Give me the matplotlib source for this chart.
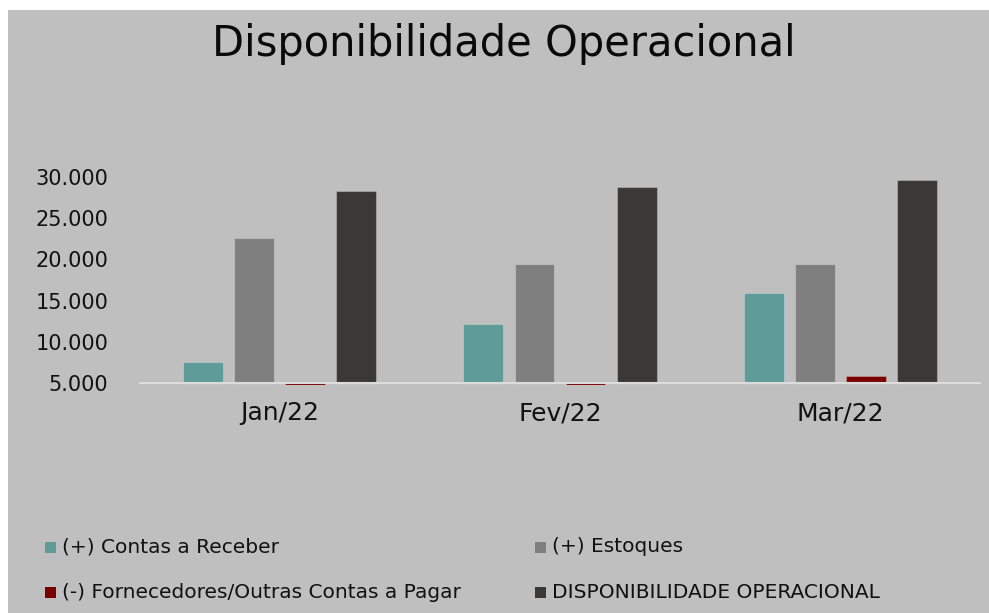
import matplotlib
matplotlib.use("Agg")
import matplotlib.pyplot as plt
from matplotlib.patches import Rectangle
import numpy as np

plt.rcParams['font.family'] = ['DejaVu Sans']

categories = ["Jan/22", "Fev/22", "Mar/22"]
series_names = ["(+) Contas a Receber", "(+) Estoques",
                "(-) Fornecedores/Outras Contas a Pagar", "DISPONIBILIDADE OPERACIONAL"]
contas_receber = [7500, 12200, 15900]
estoques = [22600, 19500, 19450]
fornecedores = [4800, 4800, 5800]
disponibilidade = [28300, 28800, 29600]
series_values = [contas_receber, estoques, fornecedores, disponibilidade]
colors = ["#5f9b98", "#7f7f7f", "#7a0000", "#3a3937"]
yticks = [5000, 10000, 15000, 20000, 25000, 30000]
ytick_labels = ["5.000", "10.000", "15.000", "20.000", "25.000", "30.000"]
title = "Disponibilidade Operacional"

W, H = 989, 613
fig = plt.figure(figsize=(W / 100, H / 100), dpi=100)
fig.patch.set_facecolor("white")
bg = "#bfbfbf"
fig.patches.append(Rectangle((8 / W, 0), 1 - 8 / W, 1 - 10 / H, transform=fig.transFigure,
                             facecolor=bg, edgecolor="none", zorder=-10))

ax = fig.add_axes([139 / W, 0.3725, (981 - 139) / W, 0.7113 - 0.3725])
ax.set_facecolor("none")
x = np.arange(len(categories))
bw = 0.142
step = 0.182
base = 5000
for i, (vals, c) in enumerate(zip(series_values, colors)):
    off = (i - 1.5) * step
    heights = [v - base for v in vals]
    ax.bar(x + off, heights, bw, bottom=base, color=c, edgecolor=(1, 1, 1, 0.25),
           linewidth=0.8, zorder=2)

ax.set_ylim(4800, 30000)
ax.set_xlim(-0.5, 2.5)
ax.axhline(base, color="#dcdcdc", linewidth=1.5, zorder=3)
for s in ax.spines.values():
    s.set_visible(False)
ax.set_yticks(yticks)
ax.set_yticklabels(ytick_labels, fontsize=15, color="#111111")
ax.tick_params(axis="y", length=0, pad=22)
ax.set_xticks(x)
ax.set_xticklabels(categories, fontsize=18, color="#111111")
ax.tick_params(axis="x", length=0, pad=12)

fig.text(504 / W, 1 - 44 / H, title, ha="center", va="center", fontsize=30, color="#0a0a0a")

# legend
legend_pos = [(45, 547), (535, 547), (45, 592), (535, 592)]
for (lx, ly), name, c in zip(legend_pos, series_names, colors):
    fig.patches.append(Rectangle((lx / W, 1 - (ly + 6) / H), 11 / W, 11 / H,
                                 transform=fig.transFigure, facecolor=c, edgecolor="none"))
    fig.text((lx + 17) / W, 1 - ly / H, name, ha="left", va="center", fontsize=14.5,
             color="#111111")

fig.savefig("out.png", dpi=100, facecolor=fig.get_facecolor())
